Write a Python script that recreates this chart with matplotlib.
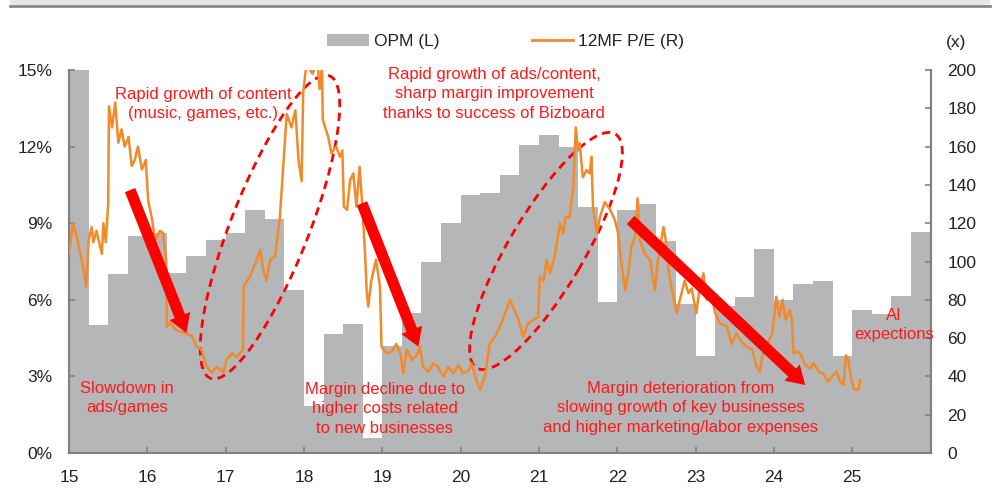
import numpy as np
import matplotlib
matplotlib.use("Agg")
import matplotlib.pyplot as plt
import matplotlib.transforms as mtransforms
from matplotlib.patches import Ellipse, Rectangle, Patch
from matplotlib.lines import Line2D

plt.rcParams['font.family'] = ['Liberation Sans', 'DejaVu Sans']

# quarterly operating profit margin (%), 1Q15 .. 4Q25
opm = [15.0, 5.0, 7.0, 8.5,
       8.6, 7.05, 7.7, 8.35,
       8.6, 9.5, 9.15, 6.4,
       1.85, 4.65, 5.05, 0.58,
       4.2, 5.5, 7.5, 9.0,
       10.1, 10.2, 10.9, 12.05,
       12.45, 12.0, 9.65, 5.9,
       9.5, 9.75, 8.3, 5.85,
       3.8, 5.75, 6.1, 8.0,
       6.0, 6.6, 6.75, 3.8,
       5.6, 5.45, 6.15, 8.65]

# 12M forward P/E (x) (year as 2-digit decimal)
pe_year = [15.00, 15.05, 15.10, 15.18, 15.22, 15.25, 15.29, 15.31, 15.35, 15.42,
           15.44, 15.47, 15.50, 15.51, 15.55, 15.59, 15.63, 15.67, 15.71, 15.76,
           15.80, 15.84, 15.88, 15.93, 15.98, 16.01, 16.06, 16.10, 16.16, 16.20,
           16.24, 16.25, 16.29, 16.37, 16.46, 16.57, 16.63, 16.69, 16.76, 16.82,
           16.89, 16.97, 17.01, 17.08, 17.14, 17.22, 17.23, 17.31, 17.40, 17.44,
           17.48, 17.52, 17.57, 17.63, 17.69, 17.74, 17.78, 17.84, 17.89, 17.93,
           17.97, 17.99, 18.03, 18.11, 18.17, 18.20, 18.23, 18.24, 18.31, 18.35,
           18.41, 18.46, 18.49, 18.51, 18.55, 18.59, 18.63, 18.67, 18.71, 18.74,
           18.78, 18.80, 18.82, 18.86, 18.92, 18.97, 18.99, 19.06, 19.12, 19.18,
           19.23, 19.27, 19.31, 19.38, 19.44, 19.48, 19.52, 19.59, 19.65, 19.71,
           19.78, 19.84, 19.91, 19.97, 20.03, 20.10, 20.14, 20.20, 20.25, 20.31,
           20.37, 20.44, 20.50, 20.57, 20.63, 20.67, 20.74, 20.80, 20.86, 20.93,
           20.99, 21.01, 21.06, 21.10, 21.14, 21.20, 21.27, 21.31, 21.34, 21.39,
           21.44, 21.47, 21.50, 21.52, 21.56, 21.61, 21.65, 21.67, 21.69, 21.74,
           21.78, 21.84, 21.91, 21.97, 22.01, 22.06, 22.10, 22.14, 22.18, 22.23,
           22.26, 22.29, 22.35, 22.42, 22.48, 22.52, 22.59, 22.62, 22.65, 22.69,
           22.76, 22.80, 22.86, 22.91, 22.95, 23.01, 23.05, 23.10, 23.14, 23.20,
           23.25, 23.31, 23.40, 23.46, 23.52, 23.59, 23.65, 23.72, 23.78, 23.82,
           23.86, 23.93, 23.98, 24.03, 24.07, 24.11, 24.15, 24.20, 24.23, 24.25,
           24.31, 24.36, 24.40, 24.46, 24.51, 24.57, 24.63, 24.69, 24.74, 24.80,
           24.84, 24.89, 24.92, 24.95, 24.99, 25.03, 25.08, 25.10]
pe = [104, 120, 113, 97, 87, 111, 118, 110, 116, 104,
      120, 110, 130, 181, 170, 183, 162, 169, 160, 165,
      150, 153, 160, 148, 153, 132, 122, 111, 116, 115,
      101, 66, 68, 64, 63, 61, 55.5, 54, 45, 42,
      45, 42, 48.5, 52, 50, 54, 87, 92, 101, 106,
      95.5, 90, 101, 102.5, 122, 153, 177, 170, 179, 153,
      142, 188, 203, 198, 205, 190, 202, 174, 165, 156.6,
      160, 154.6, 158, 128.6, 127, 142.6, 146, 128.6, 149.5, 132,
      104, 85, 76.4, 90, 101, 87, 55.5, 52, 53, 57,
      52, 41.6, 54, 48.6, 51, 55.5, 45, 42.5, 46.8, 45,
      39.8, 45, 41.5, 46, 41.6, 43, 46.8, 38, 33, 40,
      57, 60.7, 66, 73, 80, 76.4, 69.5, 60.7, 67.7, 69.5,
      71, 92, 90, 101, 94, 102.5, 120, 114.7, 123.4, 123,
      139, 170, 158, 161.7, 144, 147.8, 146, 154.7, 128.6, 114.7,
      123.4, 131, 127, 121.7, 114.7, 97, 85, 93.8, 107.7, 113,
      133, 111, 104, 100.8, 85, 100.8, 118, 111, 97, 87,
      73, 80, 90, 83.4, 86, 73, 86, 93.8, 80, 83,
      73, 67.7, 66, 57, 62.5, 58, 55.5, 54, 45, 42.5,
      52, 58, 62.5, 81.6, 71, 80, 69.5, 74.7, 69.5, 52,
      53, 50, 46, 44, 46.8, 42.5, 41.6, 37.2, 39.8, 42.5,
      38, 35.5, 51, 48.6, 38, 33, 33, 38]

year_ticks = list(range(15, 26))
opm_ticks = [0, 3, 6, 9, 12, 15]
pe_ticks = list(range(0, 201, 20))

ORANGE = '#F28A2A'
GRAY = '#B5B6B8'
RED = '#FF1A1A'
SPINE = '#7F7F7F'
TXT = '#222222'

fig = plt.figure(figsize=(10.06, 4.91), dpi=100)
ax = fig.add_axes([0.0686, 0.0774, 0.8564, 0.78])
ax2 = ax.twinx()

quarters = 15 + 0.25 * np.arange(len(opm))
ax.bar(quarters, opm, width=0.25, align='edge', color=GRAY, linewidth=0)
ax2.plot(pe_year, pe, color=ORANGE, lw=1.8, solid_joinstyle='round')

ax.set_xlim(15, 26)
ax.set_ylim(0, 15)
ax2.set_ylim(0, 200)
ax.set_xticks(year_ticks)
ax.set_xticklabels([str(y) for y in year_ticks])
ax.set_yticks(opm_ticks)
ax.set_yticklabels([f'{t}%' for t in opm_ticks])
ax2.set_yticks(pe_ticks)

for a in (ax, ax2):
    a.spines['top'].set_visible(False)
    for s in a.spines.values():
        s.set_color(SPINE)
        s.set_linewidth(1.5)
ax.spines['right'].set_visible(False)
ax2.spines['left'].set_visible(False)
ax2.spines['bottom'].set_visible(False)

ax.tick_params(axis='both', direction='in', length=4, width=1.2, color=SPINE,
               labelsize=12.5, labelcolor=TXT, pad=12)
ax2.tick_params(axis='y', direction='in', length=4, width=1.2, color=SPINE,
                labelsize=12.5, labelcolor=TXT, pad=12)

# legend and unit label
handles = [Patch(facecolor=GRAY, edgecolor='none'), Line2D([], [], color=ORANGE, lw=2)]
ax2.legend(handles, ['OPM (L)', '12MF P/E (R)'], loc='center', bbox_to_anchor=(0.507, 1.075),
           ncol=2, frameon=False, fontsize=12.5, handlelength=2.4, handletextpad=0.3,
           columnspacing=5.3, labelcolor=TXT)
ax2.text(1.0295, 1.073, '(x)', transform=ax2.transAxes, ha='center', va='center',
         fontsize=12.5, color=TXT)

# arrows
arrow_kw = dict(arrowstyle='simple,head_length=13,head_width=16,tail_width=8',
                mutation_scale=1, color='#FF0000', lw=0, shrinkA=0, shrinkB=0)
ax2.annotate('', xy=(16.50, 62.7), xytext=(15.78, 137.3), arrowprops=arrow_kw)
ax2.annotate('', xy=(19.46, 55.5), xytext=(18.74, 130.4), arrowprops=arrow_kw)
ax2.annotate('', xy=(24.40, 35.5), xytext=(22.17, 121.7), arrowprops=arrow_kw)

# dashed ellipses
for cx, cy, w, h, ang in [(17.566, 118.0, 3.25, 0.78, 68.5), (21.09, 105.5, 2.72, 0.75, 59.4)]:
    tr = fig.dpi_scale_trans + mtransforms.ScaledTranslation(cx, cy, ax2.transData)
    ax2.add_patch(Ellipse((0, 0), w, h, angle=ang, transform=tr, fill=False,
                          edgecolor='#FF0000', lw=2, linestyle=(0, (3, 2)), clip_on=False))

# comments
txt_kw = dict(ha='center', va='center', color=RED, fontsize=12, linespacing=1.38)
ax2.text(16.71, 182.2, 'Rapid growth of content\n(music, games, etc.)', **txt_kw)
ax2.text(20.43, 187.5, 'Rapid growth of ads/content,\nsharp margin improvement\nthanks to success of Bizboard', **txt_kw)
ax2.text(15.74, 28.7, 'Slowdown in\nads/games', **txt_kw)
ax2.text(19.03, 23.0, 'Margin decline due to\nhigher costs related\nto new businesses', **txt_kw)
ax2.text(22.81, 23.5, 'Margin deterioration from\nslowing growth of key businesses\nand higher marketing/labor expenses', **txt_kw)
ax2.text(25.53, 66.8, 'AI\nexpections', **txt_kw)

# header band
fig.add_artist(Rectangle((10 / 1006, 1 - 6 / 491), 980 / 1006, 6 / 491,
                         transform=fig.transFigure, color='#E6E6E6', lw=0))
fig.add_artist(Line2D([10 / 1006, 990 / 1006], [1 - 6 / 491, 1 - 6 / 491],
                      transform=fig.transFigure, color='#888888', lw=2))

fig.savefig('out.png', dpi=100)
